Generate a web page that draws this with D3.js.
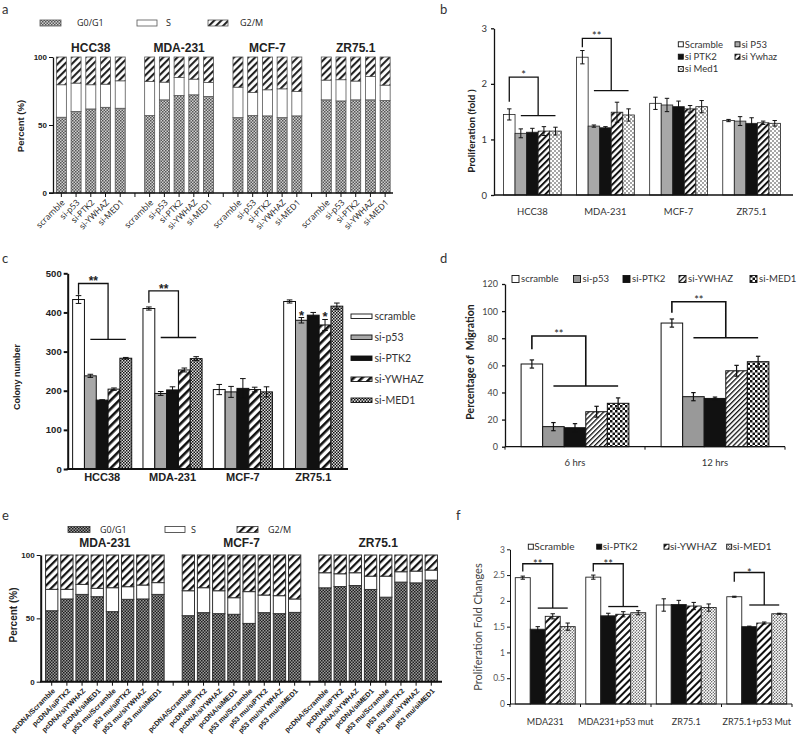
<!DOCTYPE html>
<html><head><meta charset="utf-8">
<script src="https://cdn.jsdelivr.net/npm/d3@7"></script>
<style>body{margin:0;background:#fff}svg{display:block}text{white-space:pre}</style>
</head><body>
<svg id="fig" width="800" height="740"></svg>
<script>
// ================= DATA =================
// Panel a : cell cycle distribution (%)
const aGroups = ["HCC38","MDA-231","MCF-7","ZR75.1"];
const aTreatments = ["scramble","si-p53","si-PTK2","si-YWHAZ","si-MED1"];
const aPhases = ["G0/G1","S","G2/M"];
const aG0G1 = [[55.7,59.9,61.8,63.0,62.3],[56.9,68.5,71.7,72.2,71.0],[55.4,56.9,56.7,55.4,56.7],[68.5,67.7,68.5,68.5,68.0]];
const aS    = [[23.9,20.9,17.8,17.0,20.2],[25.1,13.0,13.3,11.5,10.3],[22.4,17.0,19.2,21.2,17.9],[14.5,15.6,13.8,17.2,11.3]];
const aYTicks = [0,50,100];

// Panel b : proliferation (fold)
const bGroups = ["HCC38","MDA-231","MCF-7","ZR75.1"];
const bSeries = ["Scramble","si P53","si PTK2","si Ywhaz","si Med1"];
const bMeans = [[1.45,1.11,1.13,1.15,1.15],[2.48,1.24,1.21,1.49,1.44],[1.65,1.62,1.59,1.55,1.59],[1.34,1.33,1.29,1.30,1.29]];
const bErrs  = [[0.10,0.08,0.07,0.08,0.07],[0.12,0.02,0.02,0.18,0.11],[0.11,0.12,0.10,0.06,0.11],[0.02,0.08,0.10,0.03,0.05]];
const bYTicks = [0,1,2,3];
const bSig = [{group:"HCC38",label:"*",start:1.68,top:2.12,low:1.43},{group:"MDA-231",label:"**",start:2.66,top:2.82,low:1.88}];

// Panel c : colony number
const cGroups = ["HCC38","MDA-231","MCF-7","ZR75.1"];
const cSeries = ["scramble","si-p53","si-PTK2","si-YWHAZ","si-MED1"];
const cMeans = [[433,238,176,204,283],[410,193,202,253,282],[203,197,206,203,197],[428,380,393,368,416]];
const cErrs  = [[10,4,1,3,2],[4,5,8,5,5],[13,14,25,6,13],[4,7,7,14,8]];
const cYTicks = [0,100,200,300,400,500];
const cSig = [{group:"HCC38",label:"**",start:445,top:474,low:331},{group:"MDA-231",label:"**",start:425,top:455,low:336}];
const cStars = [{group:"ZR75.1",series:1},{group:"ZR75.1",series:3}];

// Panel d : migration (%)
const dGroups = ["6 hrs","12 hrs"];
const dSeries = ["scramble","si-p53","si-PTK2","si-YWHAZ","si-MED1"];
const dMeans = [[61,14.8,14,25.8,32],[91.2,36.9,35.6,56,62.7]];
const dErrs  = [[3,3,3,4,4],[3,3,1,4,4]];
const dYTicks = [0,20,40,60,80,100,120];
const dSig = [{group:"6 hrs",label:"**",start:71.8,top:81.6,low:44.8},{group:"12 hrs",label:"**",start:98.8,top:106.9,low:80.4}];

// Panel e : cell cycle distribution with p53 mutant (%)
const eGroups = ["MDA-231","MCF-7","ZR75.1"];
const eTreatments = ["pcDNA/Scramble","pcDNA/siPTK2","pcDNA/siYWHAZ","pcDNA/siMED1","p53 mu/Scramble","p53 mu/siPTK2","p53 mu/siYWHAZ","p53 mu/siMED1"];
const eG0G1 = [[56.0,65.3,68.9,67.1,55.3,65.0,65.3,68.9],[52.1,54.5,53.7,53.2,46.0,54.5,53.7,54.7],[74.1,75.1,75.9,72.8,66.7,78.6,78.0,80.2]];
const eS    = [[16.9,7.6,7.9,6.6,18.9,10.0,11.0,9.3],[19.7,19.7,18.1,13.1,25.1,13.9,14.2,10.6],[11.9,10.1,10.1,10.5,16.6,8.2,9.3,7.9]];
const eYTicks = [0,50,100];

// Panel f : proliferation fold changes
const fGroups = ["MDA231","MDA231+p53 mut","ZR75.1","ZR75.1+p53 Mut"];
const fSeries = ["Scramble","si-PTK2","si-YWHAZ","si-MED1"];
const fMeans = [[2.45,1.45,1.70,1.50],[2.46,1.71,1.74,1.77],[1.92,1.93,1.90,1.87],[2.08,1.50,1.57,1.75]];
const fErrs  = [[0.03,0.05,0.05,0.07],[0.04,0.05,0.05,0.04],[0.12,0.08,0.07,0.07],[0.01,0.01,0.02,0.01]];
const fYTicks = [0,0.5,1,1.5,2,2.5,3];
const fSig = [{group:"MDA231",label:"**",start:2.57,top:2.72,low:1.86},{group:"MDA231+p53 mut",label:"**",start:2.57,top:2.72,low:1.89},{group:"ZR75.1+p53 Mut",label:"*",start:2.37,top:2.55,low:1.92}];

// ================= DRAWING =================
const svg = d3.select("#fig");
const FM = "Lato, 'Open Sans', sans-serif";
const FB = "'Liberation Sans', Arial, sans-serif";
const defs = svg.append("defs");

function addPattern(id,w,h,bg,shapes,rot){
  const p = defs.append("pattern").attr("id",id).attr("patternUnits","userSpaceOnUse").attr("width",w).attr("height",h);
  if(rot) p.attr("patternTransform",`rotate(${rot})`);
  p.append("rect").attr("width",w).attr("height",h).attr("fill",bg);
  shapes.forEach(([tag,at])=>{const e=p.append(tag);Object.entries(at).forEach(([k,v])=>e.attr(k,v));});
}
function checker(id,c,bg,fg){addPattern(id,2*c,2*c,bg,[["rect",{x:0,y:0,width:c,height:c,fill:fg}],["rect",{x:c,y:c,width:c,height:c,fill:fg}]]);}
function stripes(id,w,sw,fg){addPattern(id,w,w,"#fff",[["rect",{x:0,y:0,width:sw,height:w,fill:fg}]],45);}
function dots(id,s,r,fg){addPattern(id,s,s,"#fff",[["circle",{cx:s/4,cy:s/4,r:r,fill:fg}],["circle",{cx:3*s/4,cy:3*s/4,r:r,fill:fg}]]);}

checker("chkA",1.5,"#cfcfcf","#555");
stripes("diagA",5,2.1,"#222");
checker("chkE",1.5,"#9a9a9a","#1e1e1e");
stripes("diagE",5.5,2.2,"#111");
stripes("diagB",4.5,2,"#111");
dots("dotsB",4,0.75,"#222");
stripes("diagC",6,2.6,"#111");
checker("chkC",1.5,"#e0e0e0","#111");
stripes("diagD",3.5,1.3,"#111");
checker("chkD",2.5,"#fff","#111");
stripes("diagF",5,2,"#111");
dots("dotsF",3,0.7,"#444");

function txt(g,x,y,s,o){
  const t=g.append("text").attr("x",x).attr("y",y).text(s)
    .attr("font-family",o.font||FM).attr("font-size",o.size||10).attr("font-weight",o.weight||"normal")
    .attr("fill",o.fill||"#222").attr("text-anchor",o.anchor||"start");
  if(o.dy) t.attr("dy",o.dy);
  if(o.transform) t.attr("transform",o.transform).attr("x",null).attr("y",null);
  return t;
}
function vlabel(g,x,y,s,o){ return txt(g,0,0,s,Object.assign({anchor:"middle",dy:"0.35em",transform:`translate(${x},${y}) rotate(-90)`},o)); }

// panel letters
[["a",2,14],["b",440,14],["c",2,263],["d",440,263],["e",2,520],["f",456,520]].forEach(([s,x,y])=>txt(svg,x,y,s,{size:13,fill:"#333"}));

// ---------- stacked percentage panels ----------
function stacked(o){
  const slots=[];
  o.groups.forEach((g,gi)=>{o.treatments.forEach((t,ti)=>slots.push({key:gi+"_"+ti,gi,ti,label:t}));if(gi<o.groups.length-1)slots.push({key:"gap"+gi,gap:true});});
  const x=d3.scaleBand().domain(slots.map(d=>d.key)).range(o.xRange).paddingInner(o.pi).paddingOuter(o.po);
  const y=d3.scaleLinear().domain([0,100]).range(o.yRange);
  const G=svg.append("g");
  slots.filter(d=>!d.gap).forEach(d=>{
    const g0=o.g0[d.gi][d.ti], s=o.s[d.gi][d.ti];
    [[0,g0],[g0,g0+s],[g0+s,100]].forEach(([a,b],k)=>{
      G.append("rect").attr("x",x(d.key)).attr("width",x.bandwidth()).attr("y",y(b)).attr("height",y(a)-y(b))
        .attr("fill",o.fills[k]).attr("stroke",o.stroke).attr("stroke-width",o.sw);
    });
  });
  G.append("line").attr("x1",o.xAxis[0]).attr("x2",o.xAxis[1]).attr("y1",y(0)).attr("y2",y(0)).attr("stroke","#111").attr("stroke-width",o.axw);
  slots.forEach(d=>{const cx=x(d.key)+x.bandwidth()/2;G.append("line").attr("x1",cx).attr("x2",cx).attr("y1",y(0)).attr("y2",y(0)+o.tickLen).attr("stroke","#111").attr("stroke-width",1);});
  const ya=G.append("g").attr("transform",`translate(${o.yAxisX},0)`).call(d3.axisLeft(y).tickValues(o.yTicks).tickSize(o.tickLen).tickSizeOuter(0).tickPadding(2));
  ya.select(".domain").attr("stroke","#111").attr("stroke-width",o.axw);
  ya.selectAll(".tick line").attr("stroke","#111").attr("stroke-width",1);
  ya.selectAll("text").attr("font-family",FB).attr("font-weight","bold").attr("font-size",o.tickSize).attr("fill","#222");
  slots.filter(d=>!d.gap).forEach(d=>{
    const cx=x(d.key)+x.bandwidth()/2;
    txt(G,0,0,d.label,{size:o.lblSize,weight:o.lblWeight,font:o.lblFont,anchor:"end",dy:"0.35em",transform:`translate(${cx+o.lblDx},${y(0)+o.lblDy}) rotate(-45)`});
  });
  o.groups.forEach((g,gi)=>{
    const a=x(gi+"_0"), b=x(gi+"_"+(o.treatments.length-1))+x.bandwidth();
    txt(G,(a+b)/2,o.titleY,g,{font:FB,weight:"bold",size:o.titleSize,anchor:"middle"});
  });
  vlabel(G,o.yLabelPos[0],o.yLabelPos[1],"Percent (%)",{font:FB,weight:"bold",size:o.yLabelSize});
  o.legend.forEach((lx,k)=>{
    G.append("rect").attr("x",lx[0]).attr("y",o.legendY-3).attr("width",lx[1]).attr("height",6).attr("fill",o.fills[k]).attr("stroke",o.stroke).attr("stroke-width",0.8);
    txt(G,lx[2],o.legendY,o.phases[k],{size:o.legendSize,dy:"0.35em",font:"'Open Sans', sans-serif"});
  });
}

stacked({groups:aGroups,treatments:aTreatments,phases:aPhases,g0:aG0G1,s:aS,xRange:[54,392.5],pi:0.32,po:0.16,
  yRange:[193,57],yTicks:aYTicks,yAxisX:53,xAxis:[49,393],axw:1.3,tickLen:4,tickSize:8,
  fills:["url(#chkA)","#fff","url(#diagA)"],stroke:"#555",sw:0.8,lblSize:8.5,lblWeight:"normal",lblFont:"'Open Sans', sans-serif",lblDx:2,lblDy:8,
  titleY:52,titleSize:12,yLabelPos:[21,126],yLabelSize:9.5,legendY:23,legendSize:9,
  legend:[[40,21,77],[137,20,166],[208,20,240]]});

stacked({groups:eGroups,treatments:eTreatments,phases:aPhases,g0:eG0G1,s:eS,xRange:[41,442],pi:0.19,po:0.3,
  yRange:[681.7,555],yTicks:eYTicks,yAxisX:40.7,xAxis:[40,442],axw:2,tickLen:4,tickSize:8,
  fills:["url(#chkE)","#fff","url(#diagE)"],stroke:"#333",sw:1,lblSize:7.2,lblWeight:"bold",lblFont:FB,lblDx:2,lblDy:8,
  titleY:547,titleSize:12,yLabelPos:[13,615],yLabelSize:10,legendY:529.5,legendSize:9,
  legend:[[68,22,100],[165,20,191],[237,21,268]]});

// ---------- grouped bar panels ----------
function grouped(o){
  const x0=d3.scaleBand().domain(o.groups).range(o.xRange).paddingInner(o.pi).paddingOuter(o.po);
  const x1=d3.scaleBand().domain(d3.range(o.series.length)).range([0,x0.bandwidth()]);
  const y=d3.scaleLinear().domain(o.yDomain).range(o.yRange);
  const G=svg.append("g");
  const cx=(g,si)=>x0(g)+x1(si)+x1.bandwidth()/2;
  o.groups.forEach((g,gi)=>{
    o.series.forEach((s,si)=>{
      const m=o.means[gi][si];
      G.append("rect").attr("x",x0(g)+x1(si)).attr("y",y(m)).attr("width",x1.bandwidth()).attr("height",y(0)-y(m))
        .attr("fill",o.fills[si]).attr("stroke",o.stroke).attr("stroke-width",o.sw);
    });
  });
  o.groups.forEach((g,gi)=>{
    o.series.forEach((s,si)=>{
      const m=o.means[gi][si], e=o.errs[gi][si], c=cx(g,si);
      const eg=G.append("g").attr("stroke","#111").attr("stroke-width",o.esw);
      eg.append("line").attr("x1",c).attr("x2",c).attr("y1",y(m-e)).attr("y2",y(m+e));
      [m-e,m+e].forEach(v=>eg.append("line").attr("x1",c-o.cap).attr("x2",c+o.cap).attr("y1",y(v)).attr("y2",y(v)));
    });
  });
  const ya=G.append("g").attr("transform",`translate(${o.yAxisX},0)`).call(d3.axisLeft(y).tickValues(o.yTicks).tickSize(o.tickLen).tickSizeOuter(0).tickPadding(o.tickPad).tickFormat(d3.format("~g")));
  ya.select(".domain").attr("stroke","#111").attr("stroke-width",o.axw);
  ya.selectAll(".tick line").attr("stroke","#111").attr("stroke-width",o.axw);
  ya.selectAll("text").attr("font-family",o.tickFont).attr("font-weight",o.tickWeight).attr("font-size",o.tickSize).attr("fill",o.tickColor);
  G.append("line").attr("x1",o.xAxis[0]).attr("x2",o.xAxis[1]).attr("y1",y(0)).attr("y2",y(0)).attr("stroke","#111").attr("stroke-width",o.axw);
  if(o.boundTicks){
    const bw=x0.bandwidth(), b=[o.xRange[0],o.xRange[1]];
    for(let i=0;i<o.groups.length-1;i++) b.push((x0(o.groups[i])+bw+x0(o.groups[i+1]))/2);
    b.forEach(v=>G.append("line").attr("x1",v).attr("x2",v).attr("y1",y(0)).attr("y2",y(0)+3).attr("stroke","#111").attr("stroke-width",1));
  }
  o.groups.forEach(g=>txt(G,x0(g)+x0.bandwidth()/2,o.labelY,g,{anchor:"middle",font:o.lblFont,size:o.lblSize,weight:o.lblWeight,fill:o.lblColor}));
  vlabel(G,o.yLabelPos[0],o.yLabelPos[1],o.yLabel,{font:o.yLabelFont,size:o.yLabelSize,weight:o.yLabelWeight,fill:o.yLabelColor});
  (o.sig||[]).forEach(s=>{
    const n=o.series.length, lx=cx(s.group,0), ax=cx(s.group,1), bx=cx(s.group,n-1), dx=(ax+bx)/2;
    G.append("path").attr("d",`M${lx},${y(s.start)}V${y(s.top)}H${dx}V${y(s.low)}`).attr("fill","none").attr("stroke","#111").attr("stroke-width",o.bsw);
    G.append("line").attr("x1",ax).attr("x2",bx).attr("y1",y(s.low)).attr("y2",y(s.low)).attr("stroke","#111").attr("stroke-width",o.bsw);
    txt(G,(lx+dx)/2,y(s.top)+o.starDy,s.label,{anchor:"middle",font:o.starFont,size:o.starSize,weight:o.starWeight,fill:"#222"});
  });
  return {x0,x1,y,G,cx};
}

// Panel b
grouped({groups:bGroups,series:bSeries,means:bMeans,errs:bErrs,xRange:[494,790],pi:0.21,po:0.13,yDomain:[0,3],yRange:[195,28.3],
  yTicks:bYTicks,yAxisX:494,xAxis:[494,793],axw:1.3,tickLen:3,tickPad:4,tickFont:FM,tickWeight:"normal",tickSize:9.5,tickColor:"#333",
  fills:["#fff","#a8a8a8","#111","url(#diagB)","url(#dotsB)"],stroke:"#222",sw:0.8,esw:1,cap:2.2,
  labelY:215,lblFont:FM,lblSize:9.5,lblWeight:"normal",lblColor:"#333",
  yLabel:"Proliferation (fold )",yLabelPos:[471,131],yLabelFont:FM,yLabelSize:10,yLabelWeight:"bold",yLabelColor:"#222",
  sig:bSig,bsw:1.3,starDy:2,starFont:FM,starSize:11,starWeight:"normal"});
{
  const G=svg.append("g");
  const fills=["#fff","#a8a8a8","#111","url(#diagB)","url(#dotsB)"];
  bSeries.forEach((s,i)=>{
    const lx=[678.3,735][i%2], ly=[44.3,56.7,69][Math.floor(i/2)];
    G.append("rect").attr("x",lx).attr("y",ly-2.5).attr("width",5).attr("height",5).attr("fill",fills[i]).attr("stroke","#111").attr("stroke-width",0.9);
    txt(G,lx+6.5,ly,s,{size:9.5,dy:"0.35em",fill:"#333"});
  });
}

// Panel c
const pc=grouped({groups:cGroups,series:cSeries,means:cMeans,errs:cErrs,xRange:[67.7,347.7],pi:0.16,po:0.07,yDomain:[0,500],yRange:[469,273.3],
  yTicks:cYTicks,yAxisX:67.7,xAxis:[66.7,348],axw:2,tickLen:4,tickPad:2,tickFont:FB,tickWeight:"bold",tickSize:9.5,tickColor:"#222",
  fills:["#fff","#a8a8a8","#111","url(#diagC)","url(#chkC)"],stroke:"#111",sw:1,esw:1,cap:2.8,
  labelY:481,lblFont:FB,lblSize:11,lblWeight:"bold",lblColor:"#222",
  yLabel:"Colony number",yLabelPos:[17,377],yLabelFont:FB,yLabelSize:9,yLabelWeight:"bold",yLabelColor:"#222",
  sig:cSig,bsw:1.3,starDy:2,starFont:FB,starSize:12,starWeight:"bold"});
cStars.forEach(s=>{
  const gi=cGroups.indexOf(s.group), v=cMeans[gi][s.series]+cErrs[gi][s.series];
  txt(pc.G,pc.cx(s.group,s.series),pc.y(v)+2,"*",{anchor:"middle",font:FB,size:13,weight:"bold"});
});
{
  const G=svg.append("g");
  const fills=["#fff","#a8a8a8","#111","url(#diagC)","url(#chkC)"];
  cSeries.forEach((s,i)=>{
    const ly=316+i*21;
    G.append("rect").attr("x",351).attr("y",ly-2).attr("width",21).attr("height",4.5).attr("fill",fills[i]).attr("stroke","#111").attr("stroke-width",0.9);
    txt(G,374.5,ly,s,{size:10.5,dy:"0.35em",fill:"#333"});
  });
}

// Panel d
grouped({groups:dGroups,series:dSeries,means:dMeans,errs:dErrs,xRange:[505,785],pi:0.23,po:0.115,yDomain:[0,120],yRange:[446.7,284],
  yTicks:dYTicks,yAxisX:505,xAxis:[505,785],axw:1.3,tickLen:3,tickPad:4,tickFont:FM,tickWeight:"normal",tickSize:9,tickColor:"#444",boundTicks:true,
  fills:["#fff","#999","#111","url(#diagD)","url(#chkD)"],stroke:"#111",sw:1,esw:1.2,cap:2.2,
  labelY:465.5,lblFont:FM,lblSize:9.5,lblWeight:"normal",lblColor:"#333",
  yLabel:"Percentage of  Migration",yLabelPos:[470,362],yLabelFont:FM,yLabelSize:10.5,yLabelWeight:"bold",yLabelColor:"#222",
  sig:dSig,bsw:1.6,starDy:2,starFont:FM,starSize:11,starWeight:"normal"});
{
  const G=svg.append("g");
  const fills=["#fff","#999","#111","url(#diagD)","url(#chkD)"];
  const xs=[512,573.5,623,679,750];
  dSeries.forEach((s,i)=>{
    G.append("rect").attr("x",xs[i]).attr("y",279-3.5).attr("width",7).attr("height",7).attr("fill",fills[i]).attr("stroke","#111").attr("stroke-width",0.9);
    txt(G,xs[i]+9,279,s,{size:9.6,dy:"0.35em",fill:"#333"});
  });
}

// Panel f
grouped({groups:fGroups,series:fSeries,means:fMeans,errs:fErrs,xRange:[510,792],pi:0.15,po:0.075,yDomain:[0,3],yRange:[704,549.3],
  yTicks:fYTicks,yAxisX:510,xAxis:[510,792],axw:1,tickLen:3,tickPad:2,tickFont:FM,tickWeight:"normal",tickSize:8.5,tickColor:"#555",boundTicks:true,
  fills:["#fff","#111","url(#diagF)","url(#dotsF)"],stroke:"#222",sw:0.9,esw:1,cap:2.2,
  labelY:725,lblFont:FM,lblSize:9,lblWeight:"normal",lblColor:"#333",
  yLabel:"Proliferation Fold Changes",yLabelPos:[478,627],yLabelFont:FM,yLabelSize:11,yLabelWeight:"normal",yLabelColor:"#444",
  sig:fSig,bsw:1.3,starDy:4,starFont:FM,starSize:11,starWeight:"normal"});
{
  const G=svg.append("g");
  const fills=["#fff","#111","url(#diagF)","url(#dotsF)"];
  const xs=[528.3,596.7,664,726.7];
  fSeries.forEach((s,i)=>{
    G.append("rect").attr("x",xs[i]).attr("y",546.7-2.5).attr("width",5).attr("height",5).attr("fill",fills[i]).attr("stroke","#111").attr("stroke-width",0.9);
    txt(G,xs[i]+6,546.7,s,{size:10,dy:"0.35em",fill:"#333"});
  });
}
</script>
</body></html>
